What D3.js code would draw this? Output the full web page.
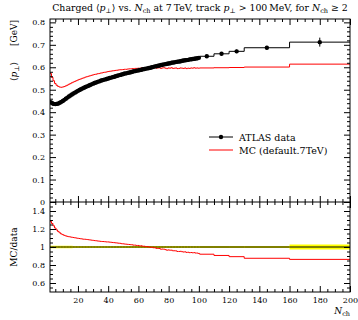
<!DOCTYPE html>
<html>
<head>
<meta charset="utf-8">
<script src="https://cdn.jsdelivr.net/npm/d3@7"></script>
<style>
  body { margin: 0; background: #fff; }
  svg { display: block; }
  text { font-family: "DejaVu Serif", "Liberation Serif", serif; fill: #000; }
</style>
</head>
<body>
<div id="chart"></div>
<script>
// bin edges: unit bins from 1.5 to 100.5, then wider bins
var binEdges = d3.range(1.5, 101, 1).concat([110, 120, 130, 160, 200]);

// ATLAS <pT> per bin (N_ch = 2..100, then 100-110, 110-120, 120-130, 130-160, 160-200)
var atlasVals = [
  .445, .440, .437, .436, .437, .439, .442, .446, .450,
  .455, .460, .465, .470, .474, .479, .483, .487, .491, .495,
  .499, .502, .506, .509, .512, .515, .518, .521, .524, .527,
  .530, .532, .535, .537, .540, .542, .544, .546, .548, .550,
  .552, .554, .556, .558, .560, .562, .564, .566, .568, .570,
  .572, .573, .575, .577, .578, .580, .582, .583, .585, .586,
  .588, .589, .591, .592, .594, .595, .597, .598, .600, .602,
  .604, .605, .607, .608, .610, .611, .613, .614, .616, .617,
  .618, .620, .621, .622, .624, .625, .626, .627, .629, .630,
  .631, .632, .633, .635, .636, .637, .638, .639, .640, .642,
  .649, .660, .671, .687, .712
];
var atlasErr = [
  .006, .006, .006, .006, .006, .006, .006, .006, .006,
  .006, .006, .006, .006, .006, .006, .006, .006, .006, .006,
  .006, .006, .006, .006, .006, .006, .006, .006, .006, .006,
  .006, .006, .006, .006, .006, .006, .006, .006, .006, .006,
  .006, .006, .006, .006, .006, .006, .006, .006, .006, .006,
  .006, .006, .006, .006, .006, .006, .006, .006, .006, .006,
  .007, .007, .007, .007, .007, .007, .007, .007, .007, .007,
  .007, .007, .007, .007, .007, .007, .007, .007, .007, .007,
  .007, .007, .007, .007, .007, .007, .007, .007, .007, .007,
  .007, .007, .007, .007, .007, .007, .007, .007, .007, .007,
  .007, .008, .008, .008, .020
];
// MC (default.7TeV), same bins
var mcVals = [
  .572, .555, .540, .528, .520, .515, .512, .511, .512,
  .514, .517, .520, .524, .527, .531, .534, .537, .540, .543,
  .546, .548, .551, .553, .556, .558, .560, .562, .564, .566,
  .568, .569, .571, .572, .574, .575, .577, .578, .579, .581,
  .582, .583, .584, .585, .586, .587, .588, .589, .589, .590,
  .591, .591, .592, .593, .593, .594, .594, .595, .595, .596,
  .595, .597, .596, .597, .596, .598, .597, .596, .598, .597,
  .599, .596, .597, .598, .595, .597, .598, .596, .594, .597,
  .596, .598, .595, .596, .597, .594, .595, .597, .596, .595,
  .597, .594, .596, .595, .597, .596, .598, .596, .597, .596,
  .597, .598, .599, .601, .614
];

var xTicks = [20, 40, 60, 80, 100, 120, 140, 160, 180, 200];
var yMainTicks = [0, 0.1, 0.2, 0.3, 0.4, 0.5, 0.6, 0.7, 0.8];
var yRatioTicks = [0.6, 0.8, 1, 1.2, 1.4];

var w = 358, h = 320;
var pLeft = 50, pRight = 350, pTop = 19, pMid = 202, pBottom = 292;

var svg = d3.select("#chart").append("svg")
  .attr("width", w)
  .attr("height", h);

var x = d3.scaleLinear().domain([1.5, 200]).range([pLeft, pRight]);
var y = d3.scaleLinear().domain([0, 0.815]).range([pMid, pTop]);
var yr = d3.scaleLinear().domain([0.5, 1.5]).range([pBottom, pMid]);

// bins as objects
var bins = atlasVals.map(function(v, i) {
  return {
    lo: binEdges[i], hi: binEdges[i + 1],
    c: (binEdges[i] + binEdges[i + 1]) / 2,
    data: v, err: atlasErr[i], mc: mcVals[i]
  };
});

function stepPts(acc) {
  var pts = bins.map(function(b) { return [b.lo, acc(b)]; });
  pts.push([bins[bins.length - 1].hi, acc(bins[bins.length - 1])]);
  return pts;
}

svg.append("clipPath").attr("id", "clipMain")
  .append("rect").attr("x", pLeft).attr("y", pTop).attr("width", pRight - pLeft).attr("height", pMid - pTop);
svg.append("clipPath").attr("id", "clipRatio")
  .append("rect").attr("x", pLeft).attr("y", pMid).attr("width", pRight - pLeft).attr("height", pBottom - pMid);

// ---- main panel ----
var main = svg.append("g").attr("clip-path", "url(#clipMain)");

var lineMain = d3.line()
  .x(function(d) { return x(d[0]); })
  .y(function(d) { return y(d[1]); })
  .curve(d3.curveStepAfter);

main.append("path")
  .attr("d", lineMain(stepPts(function(b) { return b.mc; })))
  .attr("fill", "none").attr("stroke", "#ff0000").attr("stroke-width", 1);

main.append("path")
  .attr("d", lineMain(stepPts(function(b) { return b.data; })))
  .attr("fill", "none").attr("stroke", "#000").attr("stroke-width", 1);

main.selectAll(".eb").data(bins).enter().append("line")
  .attr("x1", function(d) { return x(d.c); })
  .attr("x2", function(d) { return x(d.c); })
  .attr("y1", function(d) { return y(d.data - d.err); })
  .attr("y2", function(d) { return y(d.data + d.err); })
  .attr("stroke", "#000").attr("stroke-width", 1);

main.selectAll(".pt").data(bins).enter().append("circle")
  .attr("cx", function(d) { return x(d.c); })
  .attr("cy", function(d) { return y(d.data); })
  .attr("r", 2.2)
  .attr("fill", "#000");

// ---- ratio panel ----
var ratio = svg.append("g").attr("clip-path", "url(#clipRatio)");

var band = d3.area()
  .x(function(d) { return x(d[0]); })
  .y0(function(d) { return yr(1 - d[1]); })
  .y1(function(d) { return yr(1 + d[1]); })
  .curve(d3.curveStepAfter);

ratio.append("path")
  .attr("d", band(stepPts(function(b) { return b.err / b.data; })))
  .attr("fill", "#ffff00");

var lineRatio = d3.line()
  .x(function(d) { return x(d[0]); })
  .y(function(d) { return yr(d[1]); })
  .curve(d3.curveStepAfter);

ratio.append("path")
  .attr("d", lineRatio(stepPts(function(b) { return b.data / b.data; })))
  .attr("fill", "none").attr("stroke", "#000").attr("stroke-width", 1);

ratio.append("path")
  .attr("d", lineRatio(stepPts(function(b) { return b.mc / b.data; })))
  .attr("fill", "none").attr("stroke", "#ff0000").attr("stroke-width", 1);

// ---- frames and ticks ----
var xMinor = d3.range(5, 201, 5).filter(function(v) { return v % 20 !== 0; });
var yMinor = d3.range(0, 0.81, 0.02).filter(function(v) { return Math.abs(v * 10 - Math.round(v * 10)) > 1e-6; });
var yrMinor = d3.range(0.55, 1.5, 0.05).filter(function(v) { return Math.abs(v * 5 - Math.round(v * 5)) > 1e-6; });

function addAxis(axis, tx, ty, labels) {
  var g = svg.append("g").attr("transform", "translate(" + tx + "," + ty + ")").call(axis);
  g.select(".domain").remove();
  g.selectAll("line").attr("stroke", "#000");
  if (!labels) g.selectAll("text").remove();
  return g;
}

// x ticks: top frame (down), middle line (both ways), bottom frame (up)
addAxis(d3.axisBottom(x).tickValues(xTicks).tickSize(6), 0, pTop);
addAxis(d3.axisBottom(x).tickValues(xMinor).tickSize(3), 0, pTop);
addAxis(d3.axisBottom(x).tickValues(xTicks).tickSize(-6), 0, pMid);
addAxis(d3.axisBottom(x).tickValues(xMinor).tickSize(-3), 0, pMid);
addAxis(d3.axisBottom(x).tickValues(xTicks).tickSize(6), 0, pMid);
addAxis(d3.axisBottom(x).tickValues(xMinor).tickSize(3), 0, pMid);
var xl = addAxis(d3.axisBottom(x).tickValues(xTicks).tickSize(-6).tickPadding(5), 0, pBottom, true);
addAxis(d3.axisBottom(x).tickValues(xMinor).tickSize(-3), 0, pBottom);
xl.selectAll("text").style("font-size", "8px");

// y ticks main
var yl = addAxis(d3.axisLeft(y).tickValues(yMainTicks).tickSize(-6).tickPadding(5)
  .tickFormat(function(d) { return d === 0 ? "0" : d3.format(".1f")(d); }), pLeft, 0, true);
yl.selectAll("text").style("font-size", "8px");
addAxis(d3.axisLeft(y).tickValues(yMinor).tickSize(-3), pLeft, 0);
addAxis(d3.axisRight(y).tickValues(yMainTicks).tickSize(-6), pRight, 0);
addAxis(d3.axisRight(y).tickValues(yMinor).tickSize(-3), pRight, 0);

// y ticks ratio
var rl = addAxis(d3.axisLeft(yr).tickValues(yRatioTicks).tickSize(-6).tickPadding(5)
  .tickFormat(function(d) { return d === 1 ? "1" : d3.format(".1f")(d); }), pLeft, 0, true);
rl.selectAll("text").style("font-size", "8px");
addAxis(d3.axisLeft(yr).tickValues(yrMinor).tickSize(-3), pLeft, 0);
addAxis(d3.axisRight(yr).tickValues(yRatioTicks).tickSize(-6), pRight, 0);
addAxis(d3.axisRight(yr).tickValues(yrMinor).tickSize(-3), pRight, 0);

svg.append("rect")
  .attr("x", pLeft).attr("y", pTop).attr("width", pRight - pLeft).attr("height", pBottom - pTop)
  .attr("fill", "none").attr("stroke", "#000").attr("stroke-width", 1);
svg.append("line")
  .attr("x1", pLeft).attr("x2", pRight).attr("y1", pMid).attr("y2", pMid)
  .attr("stroke", "#000").attr("stroke-width", 1);

// ---- legend ----
var legend = svg.append("g").attr("transform", "translate(209,137)");
legend.append("line").attr("x1", 0).attr("x2", 24).attr("y1", 0).attr("y2", 0)
  .attr("stroke", "#000");
legend.append("circle").attr("cx", 12).attr("cy", 0).attr("r", 2.2).attr("fill", "#000");
legend.append("text").attr("x", 30).attr("y", 3.5).style("font-size", "9.5px").text("ATLAS data");
legend.append("line").attr("x1", 0).attr("x2", 24).attr("y1", 13).attr("y2", 13)
  .attr("stroke", "#ff0000");
legend.append("text").attr("x", 30).attr("y", 16.5).style("font-size", "9.5px").text("MC (default.7TeV)");

// ---- titles ----
var title = svg.append("text")
  .attr("x", (pLeft + pRight) / 2).attr("y", 11)
  .attr("text-anchor", "middle")
  .style("font-size", "10px");
title.append("tspan").text("Charged \u27E8");
title.append("tspan").style("font-style", "italic").text("p");
title.append("tspan").attr("dy", 2).style("font-size", "0.7em").text("\u22A5");
title.append("tspan").attr("dy", -2).text("\u27E9 vs. ");
title.append("tspan").style("font-style", "italic").text("N");
title.append("tspan").attr("dy", 2).style("font-size", "0.7em").text("ch");
title.append("tspan").attr("dy", -2).text(" at 7\u2009TeV, track ");
title.append("tspan").style("font-style", "italic").text("p");
title.append("tspan").attr("dy", 2).style("font-size", "0.7em").text("\u22A5");
title.append("tspan").attr("dy", -2).text(" > 100\u2009MeV, for ");
title.append("tspan").style("font-style", "italic").text("N");
title.append("tspan").attr("dy", 2).style("font-size", "0.7em").text("ch");
title.append("tspan").attr("dy", -2).text(" \u2265 2");
// fit the title to the plot width
var tLen = title.node().getComputedTextLength();
title.style("font-size", (10 * 296 / tLen) + "px");

// y-axis label: unit at the top, symbol below it
svg.append("text")
  .attr("transform", "translate(17," + (pTop + 1) + ") rotate(-90)")
  .attr("text-anchor", "end")
  .style("font-size", "9px")
  .text("[GeV]");
var ylab = svg.append("text")
  .attr("transform", "translate(17,62) rotate(-90)")
  .attr("text-anchor", "end")
  .style("font-size", "9px");
ylab.append("tspan").text("\u27E8");
ylab.append("tspan").style("font-style", "italic").text("p");
ylab.append("tspan").attr("dy", 2).style("font-size", "6.5px").text("\u22A5");
ylab.append("tspan").attr("dy", -2).text("\u27E9");

svg.append("text")
  .attr("transform", "translate(17," + yr(1) + ") rotate(-90)")
  .attr("text-anchor", "middle")
  .style("font-size", "9px")
  .text("MC/data");

var xlab = svg.append("text")
  .attr("x", pRight).attr("y", 314)
  .attr("text-anchor", "end")
  .style("font-size", "9px");
xlab.append("tspan").style("font-style", "italic").text("N");
xlab.append("tspan").attr("dy", 2).style("font-size", "6.5px").text("ch");
</script>
</body>
</html>
